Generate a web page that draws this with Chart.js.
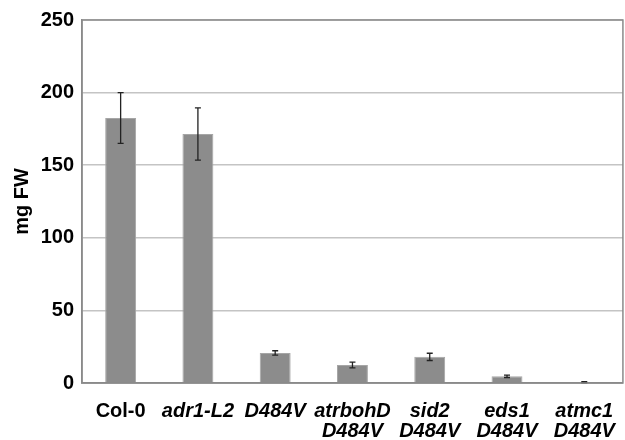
<!DOCTYPE html>
<html>
<head>
<meta charset="utf-8">
<script src="https://cdn.jsdelivr.net/npm/chart.js@4"></script>
<style>
  body { margin: 0; background: #fff; }
  #wrap { width: 625px; height: 440px; }
</style>
</head>
<body>
<div id="wrap"><canvas id="myChart" width="625" height="440"></canvas></div>
<script>
// genotypes along the x axis (second line where there is one)
const genotypes = [
    ['Col-0'],
    ['adr1-L2'],
    ['D484V'],
    ['atrbohD', 'D484V'],
    ['sid2', 'D484V'],
    ['eds1', 'D484V'],
    ['atmc1', 'D484V']
];
const freshWeight = [182.5, 171.5, 20.7, 12.4, 18, 4.6, 0.5];
const errors = [17.5, 18, 1.5, 2, 2.5, 0.8, 0.4];
const yTicks = [0, 50, 100, 150, 200, 250];

// draws the error bars and the box around the plot
const errorBarPlugin = {
    id: 'errorBars',
    afterDatasetsDraw(chart) {
        const ctx = chart.ctx;
        const y = chart.scales.y;
        const meta = chart.getDatasetMeta(0);
        ctx.save();
        ctx.strokeStyle = '#222';
        ctx.lineWidth = 1.3;
        meta.data.forEach(function (bar, i) {
            const top = y.getPixelForValue(freshWeight[i] + errors[i]);
            const bot = y.getPixelForValue(Math.max(0, freshWeight[i] - errors[i]));
            ctx.beginPath();
            ctx.moveTo(bar.x, top); ctx.lineTo(bar.x, bot);
            ctx.moveTo(bar.x - 3, top); ctx.lineTo(bar.x + 3, top);
            ctx.moveTo(bar.x - 3, bot); ctx.lineTo(bar.x + 3, bot);
            ctx.stroke();
        });
        const a = chart.chartArea;
        ctx.strokeStyle = '#8a8a8a';
        ctx.lineWidth = 1.5;
        ctx.strokeRect(a.left, a.top, a.right - a.left, a.bottom - a.top);
        ctx.restore();
    }
};

new Chart(document.getElementById('myChart'), {
    type: 'bar',
    data: {
        labels: genotypes,
        datasets: [{
            data: freshWeight,
            backgroundColor: '#8c8c8c',
            borderColor: '#a6a6a6',
            borderWidth: 1,
            barPercentage: 0.4,
            categoryPercentage: 1
        }]
    },
    options: {
        responsive: false,
        animation: false,
        layout: { padding: { top: 15, right: 2, left: 0, bottom: 0 } },
        plugins: { legend: { display: false }, tooltip: { enabled: false } },
        scales: {
            x: {
                grid: { display: false },
                border: { color: '#8a8a8a', width: 1.5 },
                ticks: {
                    color: '#000',
                    padding: 10,
                    maxRotation: 0,
                    autoSkip: false,
                    font: function (c) {
                        return { family: 'Liberation Sans', size: 20, weight: 'bold', style: c.index === 0 ? 'normal' : 'italic', lineHeight: 1.02 };
                    }
                },
                afterFit: function (s) { s.height = 57; }
            },
            y: {
                min: 0,
                max: 250,
                afterBuildTicks: function (s) { s.ticks = yTicks.map(v => ({ value: v })); },
                grid: {
                    color: '#c4c4c4',
                    lineWidth: 1.5,
                    drawTicks: false
                },
                border: { color: '#8a8a8a', width: 1.5 },
                ticks: {
                    color: '#000',
                    padding: 8,
                    font: { family: 'Liberation Sans', size: 20, weight: 'bold' }
                },
                title: {
                    display: true,
                    text: 'mg FW',
                    color: '#000',
                    padding: { top: 10, bottom: 0 },
                    font: { family: 'Liberation Sans', size: 20, weight: 'bold', lineHeight: 1.2 }
                },
                afterFit: function (s) { s.width = 82; }
            }
        }
    },
    plugins: [errorBarPlugin]
});
</script>
</body>
</html>
